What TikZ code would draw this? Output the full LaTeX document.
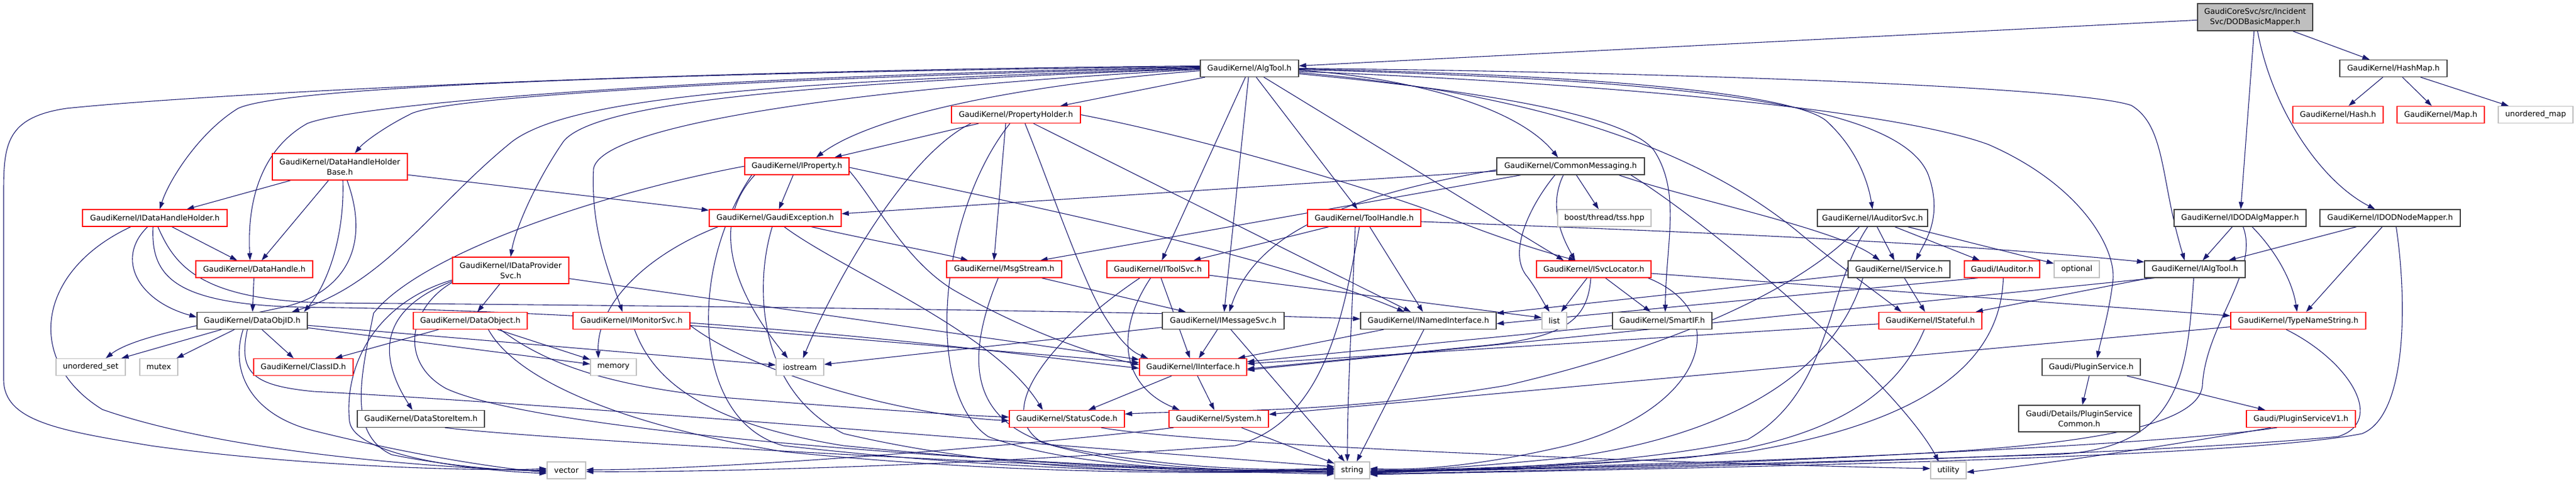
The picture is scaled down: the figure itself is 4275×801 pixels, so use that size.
\documentclass[tikz,border=0pt]{standalone}
\usepackage{fontspec}
\setmainfont{DejaVu Sans}
\usetikzlibrary{arrows.meta}
\pgfdeclarelayer{bg}
\pgfsetlayers{bg,main}
\definecolor{edgeblue}{HTML}{191970}
\definecolor{dkgray}{HTML}{404040}
\definecolor{ltgray}{HTML}{BFBFBF}
\definecolor{trunc}{HTML}{FF0000}
\begin{document}
\begin{tikzpicture}[x=1pt,y=-1pt,
  base/.style={rectangle, line width=1.3pt, fill=white, inner sep=0pt, minimum height=28pt, align=center, font=\fontsize{12.8pt}{16.5pt}\selectfont},
  blk/.style={base, draw=dkgray},
  trn/.style={base, draw=trunc},
  sys/.style={base, draw=ltgray},
  rootnode/.style={base, draw=dkgray, fill=ltgray},
  edge/.style={draw=edgeblue, line width=1.1pt, -{Triangle[length=12pt,width=8pt]}},
]
\useasboundingbox (0,0) rectangle (4275,801);
% row 0
\node[rootnode, minimum width=191pt, minimum height=45pt] (DOD) at (3742.5,28.5) {GaudiCoreSvc/src/Incident\\Svc/DODBasicMapper.h};
% row 1
\node[blk, minimum width=163pt] (AlgTool) at (2073.5,113.5) {GaudiKernel/AlgTool.h};
\node[blk, minimum width=178pt] (HashMap) at (3972,113.5) {GaudiKernel/HashMap.h};
% row 2
\node[trn, minimum width=214pt] (PH) at (1686,190.5) {GaudiKernel/PropertyHolder.h};
\node[trn, minimum width=150pt] (Hash) at (3880,190.5) {GaudiKernel/Hash.h};
\node[trn, minimum width=145pt] (Map) at (4050.5,190.5) {GaudiKernel/Map.h};
\node[sys, minimum width=124pt] (UMap) at (4208,190.5) {unordered\_map};
% row 3
\node[trn, minimum width=224pt, minimum height=44pt] (DHHB) at (564,277) {GaudiKernel/DataHandleHolder\\Base.h};
\node[trn, minimum width=173pt] (IProp) at (1322.5,276) {GaudiKernel/IProperty.h};
\node[blk, minimum width=245pt] (CM) at (2606.5,276) {GaudiKernel/CommonMessaging.h};
% row 4
\node[trn, minimum width=240pt] (IDHH) at (257,362) {GaudiKernel/IDataHandleHolder.h};
\node[trn, minimum width=219pt] (GExc) at (1286.5,362) {GaudiKernel/GaudiException.h};
\node[trn, minimum width=188pt] (TH) at (2264,362) {GaudiKernel/ToolHandle.h};
\node[sys, minimum width=155pt] (Boost) at (2662.5,362) {boost/thread/tss.hpp};
\node[blk, minimum width=183pt] (IAudSvc) at (3107.5,362) {GaudiKernel/IAuditorSvc.h};
\node[blk, minimum width=219pt] (IDODAlg) at (3717.5,362) {GaudiKernel/IDODAlgMapper.h};
\node[blk, minimum width=233pt] (IDODNode) at (3966.5,362) {GaudiKernel/IDODNodeMapper.h};
% row 5
\node[trn, minimum width=194pt] (DH) at (422,447) {GaudiKernel/DataHandle.h};
\node[trn, minimum width=193pt, minimum height=44pt] (IDPS) at (847.5,449) {GaudiKernel/IDataProvider\\Svc.h};
\node[trn, minimum width=191pt] (Msg) at (1666.5,447) {GaudiKernel/MsgStream.h};
\node[trn, minimum width=169pt] (IToolSvc) at (1921.5,447) {GaudiKernel/IToolSvc.h};
\node[trn, minimum width=190pt] (ISvcLoc) at (2645,447) {GaudiKernel/ISvcLocator.h};
\node[blk, minimum width=169pt] (IService) at (3151.5,447) {GaudiKernel/IService.h};
\node[trn, minimum width=125pt] (IAuditor) at (3322.5,447) {Gaudi/IAuditor.h};
\node[sys, minimum width=75pt] (Optional) at (3446.5,447) {optional};
\node[blk, minimum width=167pt] (IAlgTool) at (3642.5,447) {GaudiKernel/IAlgTool.h};
% row 6
\node[blk, minimum width=183pt] (DOID) at (418.5,532.5) {GaudiKernel/DataObjID.h};
\node[trn, minimum width=189pt] (DObj) at (780.5,532.5) {GaudiKernel/DataObject.h};
\node[trn, minimum width=194pt] (IMon) at (1048,532.5) {GaudiKernel/IMonitorSvc.h};
\node[blk, minimum width=202pt] (IMsgSvc) at (2030,532.5) {GaudiKernel/IMessageSvc.h};
\node[blk, minimum width=225pt] (INamed) at (2370.5,532.5) {GaudiKernel/INamedInterface.h};
\node[sys, minimum width=41pt] (List) at (2579.5,532.5) {list};
\node[blk, minimum width=165pt] (SmartIF) at (2758.5,532.5) {GaudiKernel/SmartIF.h};
\node[trn, minimum width=171pt] (IStateful) at (3203.5,532.5) {GaudiKernel/IStateful.h};
\node[trn, minimum width=224pt] (TNS) at (3814,532.5) {GaudiKernel/TypeNameString.h};
% row 7
\node[sys, minimum width=115pt] (USet) at (150.5,609.5) {unordered\_set};
\node[sys, minimum width=63pt] (Mutex) at (263.5,609.5) {mutex};
\node[trn, minimum width=165pt] (ClassID) at (503.5,609.5) {GaudiKernel/ClassID.h};
\node[sys, minimum width=76pt] (Memory) at (1018,609.5) {memory};
\node[sys, minimum width=79pt] (Iostream) at (1327.5,609.5) {iostream};
\node[trn, minimum width=178pt] (IInterface) at (1980,609.5) {GaudiKernel/IInterface.h};
\node[blk, minimum width=163pt] (PlugSvc) at (3470.5,609.5) {Gaudi/PluginService.h};
% row 8
\node[blk, minimum width=211pt] (DSI) at (698.5,695.5) {GaudiKernel/DataStoreItem.h};
\node[trn, minimum width=191pt] (SC) at (1770.5,695.5) {GaudiKernel/StatusCode.h};
\node[trn, minimum width=165pt] (System) at (2022.5,695.5) {GaudiKernel/System.h};
\node[blk, minimum width=201pt, minimum height=44pt] (PSC) at (3450.5,695) {Gaudi/Details/PluginService\\Common.h};
\node[trn, minimum width=181pt] (PSV1) at (3818.5,695.5) {Gaudi/PluginServiceV1.h};
% row 9
\node[sys, minimum width=64pt] (Vector) at (940,781) {vector};
\node[sys, minimum width=58pt] (String) at (2244,781) {string};
\node[sys, minimum width=59pt] (Utility) at (3233.5,781) {utility};

\begin{pgfonlayer}{bg}
\fill[white] (0,0) rectangle (4275,801);
% DOD
\draw[edge] (DOD) -- (AlgTool);
\draw[edge] (DOD) -- (HashMap);
\draw[edge] (DOD) -- (IDODAlg);
\draw[edge] ([xshift=4pt]DOD.south) .. controls (3770,180) and (3850,300) .. ([xshift=-25pt]IDODNode.north);
% HashMap
\draw[edge] (HashMap) -- (Hash);
\draw[edge] (HashMap) -- (Map);
\draw[edge] (HashMap) -- (UMap);
% AlgTool, left side
\draw[edge] ([yshift=4pt]AlgTool.west) .. controls (1000,118) and (300,160) .. (110,180) .. controls (10,195) and (6,240) .. (6,320) -- (6,630) .. controls (6,700) and (100,715) .. (250,740) .. controls (500,775) and (800,783) .. ([yshift=3pt]Vector.west);
\draw[edge] ([yshift=3pt]AlgTool.west) .. controls (1200,120) and (480,140) .. (395,180) .. controls (330,220) and (280,300) .. ([xshift=8pt]IDHH.north);
\draw[edge] ([yshift=2pt]AlgTool.west) .. controls (1200,125) and (600,170) .. (510,205) .. controls (430,250) and (410,340) .. ([xshift=-7pt]DH.north);
\draw[edge] ([yshift=1pt]AlgTool.west) .. controls (1300,128) and (730,160) .. (680,190) .. controls (640,210) and (605,235) .. ([xshift=25pt]DHHB.north);
\draw[edge] ([yshift=0pt]AlgTool.west) .. controls (1300,135) and (950,160) .. (850,235) .. controls (720,340) and (640,470) .. ([xshift=66pt]DOID.north);
\draw[edge] ([yshift=-1pt]AlgTool.west) .. controls (1400,135) and (990,165) .. (935,235) .. controls (890,300) and (855,380) .. (IDPS.north);
\draw[edge] ([yshift=-2pt]AlgTool.west) .. controls (1500,140) and (1000,200) .. (985,280) .. controls (980,380) and (1010,450) .. ([xshift=-15pt]IMon.north);
\draw[edge] ([yshift=-4pt]AlgTool.west) .. controls (1700,140) and (1450,190) .. ([xshift=32pt]IProp.north);
\draw[edge] (AlgTool) -- (PH);
\draw[edge] (AlgTool) -- (IToolSvc);
\draw[edge] (AlgTool) -- (IMsgSvc);
\draw[edge] (AlgTool) -- (TH);
\draw[edge] (AlgTool) -- ([xshift=-50pt]ISvcLoc.north);
% AlgTool, right side
\draw[edge] ([yshift=-3pt]AlgTool.east) .. controls (2350,130) and (2520,180) .. ([xshift=-21pt]CM.north);
\draw[edge] ([yshift=-1pt]AlgTool.east) .. controls (2700,125) and (2980,160) .. (3030,200) .. controls (3080,245) and (3100,300) .. (IAudSvc.north);
\draw[edge] ([yshift=-2pt]AlgTool.east) .. controls (2750,132) and (3150,165) .. (3200,290) .. controls (3225,360) and (3195,400) .. ([xshift=28pt]IService.north);
\draw[edge] ([yshift=0pt]AlgTool.east) .. controls (2800,120) and (3450,145) .. (3537,175) .. controls (3595,210) and (3585,300) .. ([xshift=-17pt]IAlgTool.north);
\draw[edge] ([yshift=-5pt]AlgTool.east) .. controls (2700,140) and (3150,185) .. (3300,240) .. controls (3460,310) and (3515,420) .. (3506,470) .. controls (3500,520) and (3485,570) .. ([xshift=10pt]PlugSvc.north);
\draw[edge] ([yshift=-7pt]AlgTool.east) .. controls (2500,150) and (2800,230) .. (2990,390) .. controls (3050,440) and (3120,490) .. ([xshift=-48pt]IStateful.north);
\draw[edge] ([yshift=-9pt]AlgTool.east) .. controls (2450,150) and (2700,190) .. (2745,250) .. controls (2790,320) and (2765,400) .. ([xshift=5pt]SmartIF.north);
% PropertyHolder
\draw[edge] (PH) -- (IProp);
\draw[edge] ([xshift=-17pt]PH.south) -- ([xshift=-17pt]Msg.north);
\draw[edge] ([xshift=-75pt]PH.south) .. controls (1500,260) and (1380,480) .. ([xshift=5pt]Iostream.north);
\draw[edge] ([xshift=-10pt]PH.south) .. controls (1560,350) and (1530,650) .. (1640,725) .. controls (1800,785) and (2100,785) .. ([yshift=3pt]String.west);
\draw[edge] (PH) -- (INamed);
\draw[edge] (PH.east) .. controls (2000,230) and (2300,320) .. (2400,360) .. controls (2500,400) and (2570,420) .. ([xshift=-30pt]ISvcLoc.north);
\draw[edge] ([xshift=15pt]PH.south) .. controls (1740,300) and (1790,450) .. (1830,520) .. controls (1860,570) and (1880,585) .. ([xshift=-75pt]IInterface.north);
% IProperty
\draw[edge] (IProp) -- (GExc);
\draw[edge] ([xshift=-70pt]IProp.south) .. controls (1170,380) and (1230,500) .. ([xshift=-20pt]Iostream.north);
\draw[edge] (IProp.west) .. controls (1000,320) and (700,420) .. (620,520) .. controls (600,620) and (575,720) .. (650,755) .. controls (750,775) and (850,783) .. ([yshift=1pt]Vector.west);
\draw[edge] ([xshift=-75pt]IProp.south) .. controls (1140,450) and (1150,700) .. (1300,740) .. controls (1700,785) and (2000,785) .. ([yshift=-1pt]String.west);
\draw[edge] ([yshift=-8pt]IProp.east) .. controls (1450,330) and (1500,430) .. (1580,480) .. controls (1700,550) and (1820,590) .. ([yshift=4pt]IInterface.west);
\draw[edge] ([yshift=-2pt]IProp.east) .. controls (1700,340) and (2100,420) .. ([xshift=-40pt]INamed.north);
% DataHandleHolderBase
\draw[edge] (DHHB) -- (IDHH);
\draw[edge] (DHHB) -- (DH);
\draw[edge] (DHHB) -- (GExc);
\draw[edge] ([xshift=5pt]DHHB.south) .. controls (572,390) and (545,470) .. ([xshift=86pt]DOID.north);
\draw[edge] ([xshift=12pt]DHHB.south) .. controls (620,420) and (560,490) .. (470,510) .. controls (330,540) and (220,560) .. ([xshift=25pt]USet.north);
% IDataHandleHolder
\draw[edge] (IDHH) -- (DH);
\draw[edge] ([xshift=-12pt]IDHH.south) .. controls (190,430) and (230,500) .. ([yshift=6pt]DOID.west);
\draw[edge] ([xshift=-40pt]IDHH.south) .. controls (60,450) and (40,600) .. (170,680) .. controls (400,760) and (800,780) .. ([yshift=-1pt]Vector.west);
\draw[edge] ([xshift=-3pt]IDHH.south) .. controls (250,460) and (290,505) .. (500,510) .. controls (1200,518) and (1700,590) .. ([yshift=-2pt]IInterface.west);
\draw[edge] ([xshift=5pt]IDHH.south) .. controls (290,440) and (330,500) .. (550,503) .. controls (1400,510) and (2000,520) .. ([yshift=3pt]INamed.west);
% DataHandle
\draw[edge] (DH) -- (DOID);
% DataObjID
\draw[edge] (DOID) -- (USet);
\draw[edge] (DOID) -- (Mutex);
\draw[edge] (DOID) -- (ClassID);
\draw[edge] (DOID) -- (Memory);
\draw[edge] (DOID) -- (Iostream);
\draw[edge] ([xshift=-15pt]DOID.south) .. controls (380,620) and (420,690) .. (520,715) .. controls (700,760) and (850,780) .. ([yshift=-3pt]Vector.west);
\draw[edge] ([xshift=-8pt]DOID.south) .. controls (395,620) and (420,640) .. (520,650) .. controls (900,670) and (1500,720) .. ([yshift=6pt]String.west);
% IDataProviderSvc
\draw[edge] (IDPS) -- (DObj);
\draw[edge] ([yshift=-18pt]IDPS.west) .. controls (640,510) and (620,580) .. ([xshift=-14pt]DSI.north);
\draw[edge] ([yshift=-16pt]IDPS.west) .. controls (630,500) and (570,600) .. (580,700) .. controls (590,760) and (800,782) .. ([yshift=-5pt]Vector.west);
\draw[edge] ([yshift=-20pt]IDPS.west) .. controls (680,510) and (660,600) .. (740,645) .. controls (900,720) and (1700,775) .. ([yshift=-4pt]String.west);
\draw[edge] (IDPS) -- (IInterface);
% DataObject
\draw[edge] (DObj) -- (ClassID);
\draw[edge] (DObj) -- (Memory);
\draw[edge] ([xshift=50pt]DObj.south) .. controls (900,600) and (1000,640) .. (1200,660) .. controls (1450,680) and (1600,690) .. ([yshift=3pt]SC.west);
\draw[edge] ([xshift=30pt]DObj.south) .. controls (850,620) and (1000,700) .. (1300,750) .. controls (1700,790) and (2000,785) .. ([yshift=-2pt]String.west);
% DataStoreItem
\draw[edge] ([xshift=40pt]DSI.south) .. controls (900,730) and (1800,780) .. ([yshift=-6pt]String.west);
% IMonitorSvc
\draw[edge] (IMon) -- (IInterface);
\draw[edge] ([xshift=5pt]IMon.south) .. controls (1080,620) and (1150,700) .. (1400,740) .. controls (1800,780) and (2050,783) .. ([yshift=2pt]String.west);
\draw[edge] ([yshift=-8pt]IMon.east) .. controls (1250,620) and (1500,690) .. ([yshift=-3pt]SC.west);
% GaudiException
\draw[edge] ([xshift=-95pt]GExc.south) .. controls (1080,420) and (990,500) .. ([xshift=-25pt]Memory.north);
\draw[edge] ([xshift=-5pt]GExc.south) .. controls (1250,480) and (1260,650) .. (1400,720) .. controls (1700,790) and (2000,785) .. ([yshift=1pt]String.west);
\draw[edge] ([xshift=15pt]GExc.south) .. controls (1400,450) and (1650,550) .. ([xshift=-40pt]SC.north);
\draw[edge] ([xshift=60pt]GExc.south) .. controls (1450,400) and (1560,420) .. ([xshift=-60pt]Msg.north);
% CommonMessaging
\draw[edge] (CM) -- (GExc);
\draw[edge] (CM) -- ([xshift=60pt]Msg.north);
\draw[edge] ([yshift=-6pt]CM.west) .. controls (2200,330) and (2080,400) .. ([xshift=10pt]IMsgSvc.north);
\draw[edge] ([xshift=-12pt]CM.south) .. controls (2570,340) and (2590,390) .. ([xshift=-31pt]ISvcLoc.north);
\draw[edge] ([xshift=-26pt]CM.south) .. controls (2540,340) and (2500,420) .. (2535,460) .. controls (2550,480) and (2560,500) .. ([xshift=-8pt]List.north);
\draw[edge] (CM) -- (Boost);
\draw[edge] ([xshift=100pt]CM.south) .. controls (2850,380) and (3150,640) .. ([xshift=-16pt]Utility.north);
\draw[edge] ([xshift=80pt]CM.south) .. controls (2800,330) and (3050,380) .. ([xshift=-32pt]IService.north);
% ToolHandle
\draw[edge] (TH) -- (IToolSvc);
\draw[edge] ([yshift=-6pt]TH.east) .. controls (2800,385) and (3200,400) .. ([yshift=12pt]IAlgTool.west);
\draw[edge] (TH) -- (INamed);
\draw[edge] ([xshift=-15pt]TH.south) .. controls (2245,500) and (2236,650) .. ([xshift=-8pt]String.north);
\draw[edge] ([xshift=-8pt]TH.south) .. controls (2230,520) and (2200,700) .. (2050,740) .. controls (1500,780) and (1100,784) .. ([yshift=-2pt]Vector.east);
% MsgStream
\draw[edge] (Msg) -- (IMsgSvc);
\draw[edge] ([xshift=-10pt]Msg.south) .. controls (1600,600) and (1610,700) .. (1750,740) .. controls (1950,780) and (2100,782) .. ([yshift=4pt]String.west);
% IToolSvc
\draw[edge] ([yshift=-10pt]IToolSvc.east) -- ([yshift=5pt]List.west);
\draw[edge] (IToolSvc) -- (IInterface);
\draw[edge] ([xshift=-12pt]IToolSvc.south) .. controls (1850,550) and (1860,640) .. ([xshift=-65pt]System.north);
\draw[edge] ([xshift=-30pt]IToolSvc.south) .. controls (1760,550) and (1640,680) .. (1730,735) .. controls (1900,785) and (2100,783) .. ([yshift=2pt]String.west);
% IMessageSvc
\draw[edge] (IMsgSvc) -- (IInterface);
\draw[edge] (IMsgSvc) -- (String);
\draw[edge] (IMsgSvc) -- (Iostream);
% INamedInterface
\draw[edge] (INamed) -- (IInterface);
\draw[edge] (INamed) -- (String);
% IInterface
\draw[edge] (IInterface) -- (SC);
\draw[edge] (IInterface) -- (System);
% System
\draw[edge] (System) -- (String);
\draw[edge] ([xshift=-75pt]System.south) .. controls (1700,740) and (1200,780) .. ([yshift=1pt]Vector.east);
% StatusCode
\draw[edge] ([xshift=57pt]SC.south) .. controls (2000,740) and (2800,770) .. ([yshift=3pt]Utility.west);
% ISvcLocator
\draw[edge] (ISvcLoc) -- (List);
\draw[edge] (ISvcLoc) -- (SmartIF);
\draw[edge] ([xshift=-5pt]ISvcLoc.south) .. controls (2635,530) and (2600,562) .. (2450,575) .. controls (2300,590) and (2150,605) .. ([yshift=-3pt]IInterface.east);
\draw[edge] (ISvcLoc) -- (TNS);
\draw[edge] ([xshift=90pt]ISvcLoc.south) .. controls (2880,520) and (2830,680) .. (2600,740) .. controls (2450,775) and (2350,781) .. ([yshift=3pt]String.east);
% SmartIF
\draw[edge] (SmartIF) -- (IInterface);
% IService
\draw[edge] (IService) -- (INamed);
\draw[edge] (IService) -- (IStateful);
\draw[edge] ([xshift=-60pt]IService.south) .. controls (3050,600) and (2900,720) .. (2600,760) .. controls (2400,780) and (2320,781) .. ([yshift=-3pt]String.east);
% IStateful
\draw[edge] (IStateful) -- (IInterface);
\draw[edge] ([xshift=-10pt]IStateful.south) .. controls (3150,650) and (3050,730) .. (2800,760) .. controls (2500,778) and (2350,781) .. ([yshift=1pt]String.east);
% IAuditorSvc
\draw[edge] (IAudSvc) -- (IService);
\draw[edge] (IAudSvc) -- (IAuditor);
\draw[edge] (IAudSvc) -- (Optional);
\draw[edge] ([xshift=-22pt]IAudSvc.south) .. controls (3000,470) and (2800,570) .. (2500,640) .. controls (2200,690) and (2000,680) .. ([yshift=8pt]SC.east);
\draw[edge] ([xshift=-8pt]IAudSvc.south) .. controls (3030,480) and (3040,650) .. (2900,730) .. controls (2700,775) and (2400,781) .. ([yshift=-1pt]String.east);
% IAuditor
\draw[edge] ([xshift=-40pt]IAuditor.south) -- ([yshift=-5pt]INamed.east);
\draw[edge] ([xshift=2pt]IAuditor.south) .. controls (3320,600) and (3200,700) .. (2900,750) .. controls (2600,778) and (2400,781) .. ([yshift=-2pt]String.east);
% IAlgTool
\draw[edge] (IAlgTool) -- (IStateful);
\draw[edge] ([xshift=-67pt]IAlgTool.south) -- ([yshift=-5pt]IInterface.east);
\draw[edge] ([xshift=-2pt]IAlgTool.south) .. controls (3630,620) and (3620,750) .. (3400,755) .. controls (2800,775) and (2400,781) .. ([yshift=-4pt]String.east);
% TypeNameString
\draw[edge] (TNS) -- (System);
\draw[edge] ([xshift=-20pt]TNS.south) .. controls (3900,600) and (3960,700) .. (3880,725) .. controls (3500,760) and (2600,781) .. ([yshift=-6pt]String.east);
% PluginService
\draw[edge] (PlugSvc) -- (PSC);
\draw[edge] (PlugSvc) -- (PSV1);
% PluginServiceV1
\draw[edge] ([xshift=-40pt]PSV1.south) .. controls (3650,730) and (3300,750) .. (2900,765) .. controls (2600,775) and (2400,781) .. ([yshift=-5pt]String.east);
\draw[edge] ([xshift=-50pt]PSV1.south) .. controls (3600,740) and (3400,770) .. ([yshift=-3pt]Utility.east);
% IDODAlgMapper
\draw[edge] (IDODAlg) -- (IAlgTool);
\draw[edge] ([xshift=20pt]IDODAlg.south) .. controls (3780,420) and (3805,470) .. ([xshift=-2pt]TNS.north);
\draw[edge] ([xshift=5pt]IDODAlg.south) .. controls (3750,450) and (3660,540) .. (3655,640) .. controls (3650,700) and (3500,735) .. (3200,752) .. controls (2800,775) and (2400,781) .. ([yshift=-3pt]String.east);
% IDODNodeMapper
\draw[edge] (IDODNode) -- (IAlgTool);
\draw[edge] (IDODNode) -- (TNS);
\draw[edge] ([xshift=10pt]IDODNode.south) .. controls (3995,500) and (3995,690) .. (3920,720) .. controls (3700,765) and (2600,781) .. ([yshift=-7pt]String.east);
\end{pgfonlayer}
\end{tikzpicture}
\end{document}
